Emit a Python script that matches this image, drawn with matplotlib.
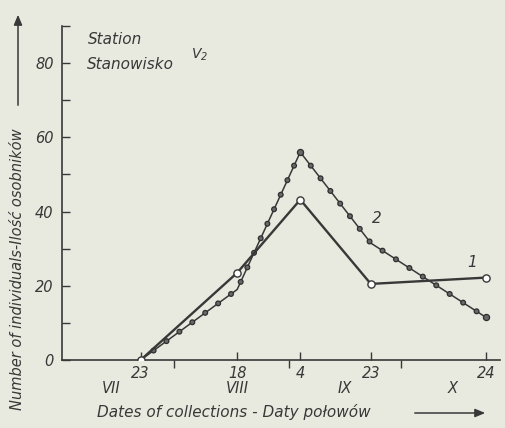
import matplotlib
matplotlib.use('Agg')
import matplotlib.pyplot as plt

plt.rcParams['font.family'] = ['Liberation Sans Narrow', 'DejaVu Sans']
plt.rcParams['font.style'] = 'italic'
plt.rcParams['lines.scale_dashes'] = False

# collection dates as days since 23 July
days = [0, 26, 43, 62, 93]
day_labels = ['23', '18', '4', '23', '24']
month_starts = [9, 40, 70]          # 1 Aug, 1 Sep, 1 Oct
month_pos = [-8, 26, 55, 84]
month_labels = ['VII', 'VIII', 'IX', 'X']

series1 = [0, 23.5, 43.2, 20.5, 22.2]
series2 = [0, 19, 56, 31.5, 11.5]

ink = '#383838'
paper = '#e8eadf'

fig = plt.figure(figsize=(5.06, 4.28), dpi=100, facecolor=paper)
ax = fig.add_axes([0.1225, 0.1589, 0.8656, 0.7804])
ax.set_facecolor(paper)

ax.set_xlim(-21.2, 96.8)
ax.set_ylim(0, 90)

# series 2: thin line with beads along it
ax.plot(days, series2, color=ink, lw=1.1, zorder=2)
ax.plot(days, series2, color='#2e2e2e', lw=4.4, linestyle=(0, (0.01, 11.5)),
        dash_capstyle='round', zorder=3)
ax.plot(days, series2, color='#686868', lw=2.6, linestyle=(0, (0.01, 11.5)),
        dash_capstyle='round', zorder=4)
ax.plot([days[2], days[4]], [series2[2], series2[4]], linestyle='none',
        marker='o', ms=4.4, mfc='#686868', mec='#2e2e2e', mew=0.9, zorder=4)

# series 1: heavy line with open circles
ax.plot(days, series1, color=ink, lw=1.7, marker='o', ms=5.2,
        mfc='white', mec=ink, mew=1.0, zorder=5)

ax.text(88, 25, '1', fontsize=11, color=ink)
ax.text(62.3, 37, '2', fontsize=11, color=ink)

# axes styling
for side in ['top', 'right']:
    ax.spines[side].set_visible(False)
for side in ['left', 'bottom']:
    ax.spines[side].set_color(ink)
    ax.spines[side].set_linewidth(1.2)

yt = list(range(0, 91, 10))
ax.set_yticks(yt)
ax.set_yticklabels([str(v) if v % 20 == 0 and v < 90 else '' for v in yt])
ax.tick_params(axis='y', direction='in', length=5.5, width=1.0, color=ink,
               labelsize=10.5, labelcolor=ink, pad=6)

ax.set_xticks(days)
ax.set_xticklabels(day_labels)
ax.set_xticks(month_starts, minor=True)
ax.tick_params(axis='x', which='major', direction='in', length=6, width=1.0,
               color=ink, labelsize=10.5, labelcolor=ink, pad=4)
ax.tick_params(axis='x', which='minor', direction='out', length=6, width=1.0,
               color=ink)

for xp, lab in zip(month_pos, month_labels):
    ax.text(xp, -0.085, lab, transform=ax.get_xaxis_transform(), ha='center',
            va='center', fontsize=10.5, color=ink)

ax.text(-14.2, 86.3, 'Station', fontsize=11, color=ink, va='center')
ax.text(-14.4, 79.5, 'Stanowisko', fontsize=11, color=ink, va='center')
ax.text(13.5, 82.2, 'V$_2$', fontsize=10, color=ink, va='center')

# axis titles with arrows
fig.text(97 / 506, 1 - 412 / 428, 'Dates of collections - Daty połowów',
         fontsize=11, color=ink, va='center', ha='left')
fig.add_artist(matplotlib.patches.FancyArrowPatch(
    (412 / 506, 1 - 413 / 428), (488 / 506, 1 - 413 / 428),
    transform=fig.transFigure, arrowstyle='-|>,head_length=6,head_width=2.5',
    color=ink, lw=1.1))

fig.text(18 / 506, 1 - 410 / 428, 'Number of individuals-Ilość osobników',
         fontsize=10.5, color=ink, rotation=90, va='bottom', ha='center')
fig.add_artist(matplotlib.patches.FancyArrowPatch(
    (18 / 506, 1 - 108 / 428), (18 / 506, 1 - 12 / 428),
    transform=fig.transFigure, arrowstyle='-|>,head_length=6,head_width=2.5',
    color=ink, lw=1.1))

fig.savefig('out.png', dpi=100, facecolor=paper)
